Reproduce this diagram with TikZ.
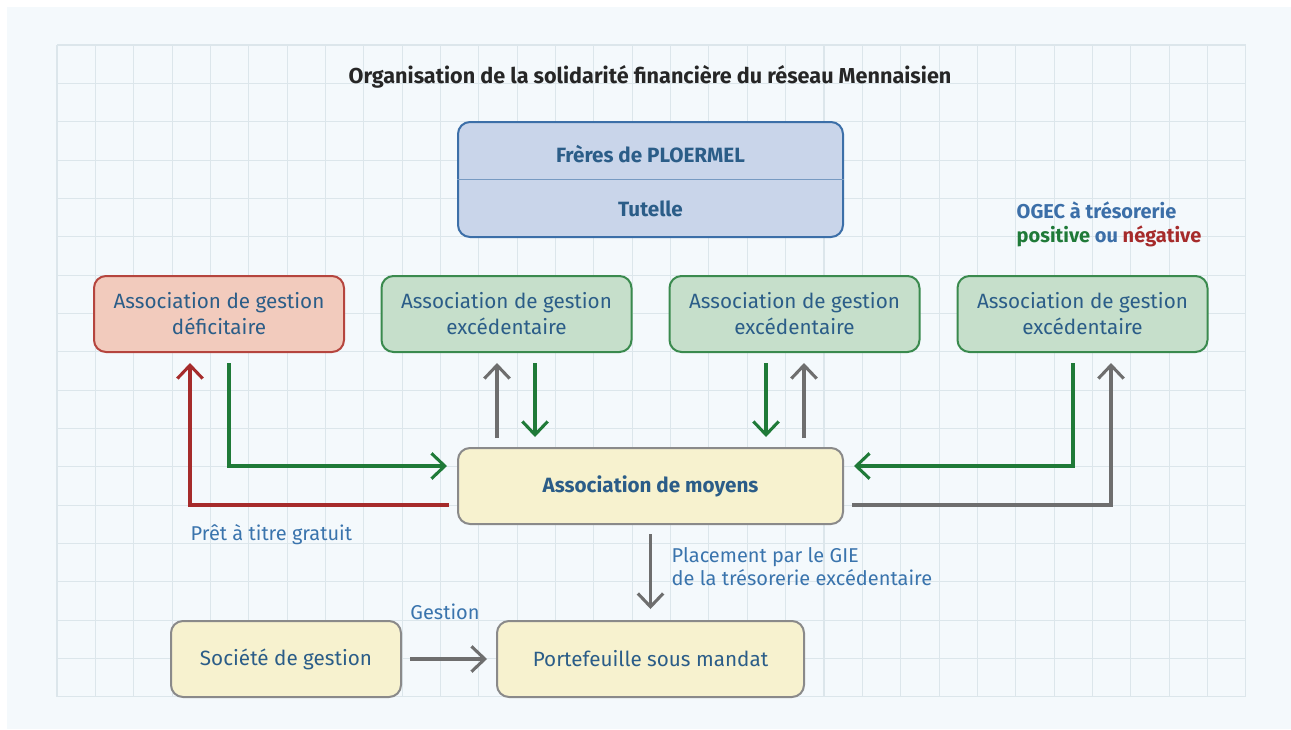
\documentclass[tikz,border=0pt]{standalone}
\usepackage{fontspec}
\setmainfont{Fira Sans}
\usetikzlibrary{arrows.meta,calc}

\newcommand{\pxu}{0.75pt}
\definecolor{papier}{HTML}{F4F9FC}
\definecolor{quadrille}{HTML}{DCE6EB}
\definecolor{bleutexte}{HTML}{2B5D88}
\definecolor{bleulabel}{HTML}{3A74AD}
\definecolor{bleufond}{HTML}{C9D5EA}
\definecolor{bleutrait}{HTML}{3C6FA8}
\definecolor{rougefond}{HTML}{F2CBBD}
\definecolor{rougetrait}{HTML}{B5453E}
\definecolor{rougefleche}{HTML}{A62B2B}
\definecolor{vertfond}{HTML}{C6DFCB}
\definecolor{verttrait}{HTML}{3A8A4E}
\definecolor{vertfleche}{HTML}{1F7A38}
\definecolor{jaunefond}{HTML}{F7F2CF}
\definecolor{gristrait}{HTML}{8A8A8A}
\definecolor{grisfleche}{HTML}{6E6E6E}

\begin{document}
\begin{tikzpicture}[x=\pxu, y=-\pxu, >={Straight Barb[length=10pt,width=19pt]},
  boite/.style={draw, rounded corners=9pt, line width=1.5pt, minimum height=76*\pxu,
    align=center, text=bleutexte, font=\fontsize{15.5}{19.5}\selectfont},
  deficit/.style={boite, fill=rougefond, draw=rougetrait, minimum width=250*\pxu},
  exced/.style={boite, fill=vertfond, draw=verttrait, minimum width=250*\pxu},
  moyen/.style={boite, fill=jaunefond, draw=gristrait},
  fleche/.style={->, line width=2.3pt},
  lbl/.style={text=bleulabel, font=\fontsize{15}{17.5}\selectfont, align=left}]
  \useasboundingbox (0,0) rectangle (1291,729);
  \fill[white] (0,0) rectangle (1291,729);
  \fill[papier] (7,7) rectangle (1291,729);
  % quadrillage
  \foreach \i in {0,...,31}
    \draw[quadrille, line width=0.8pt] ({57+38.35*\i},45) -- ++(0,652);
  \foreach \j in {0,...,17}
    \draw[quadrille, line width=0.8pt] (57,{45+38.35*\j}) -- ++(1188.85,0);

  \node[font=\fontsize{16.2}{19}\bfseries, text=black!85] (titre) at (650,77)
    {Organisation de la solidarité financière du réseau Mennaisien};

  % tutelle
  \node[boite, fill=bleufond, draw=bleutrait, minimum width=385*\pxu, minimum height=115*\pxu] (tutelle) at (650.5,179.5) {};
  \draw[bleutrait!70, line width=0.8pt] (tutelle.west) -- (tutelle.east);
  \node[text=bleutexte, font=\fontsize{15.5}{19}\bfseries] (freres) at (650.5,154) {Frères de PLOERMEL};
  \node[text=bleutexte, font=\fontsize{15.5}{19}\bfseries] (tut) at (650.5,209) {Tutelle};
  \node[anchor=west, align=left, font=\fontsize{15}{18}\bfseries] (ogec) at (1012,224)
    {\textcolor{bleutrait}{OGEC à trésorerie}\\
     \textcolor{vertfleche}{positive} \textcolor{bleutrait}{ou} \textcolor{rougefleche}{négative}};

  % associations de gestion
  \node[deficit] (deficitaire) at (219,314) {Association de gestion\\déficitaire};
  \node[exced] (exced1) at (506.5,314) {Association de gestion\\excédentaire};
  \node[exced] (exced2) at (794.5,314) {Association de gestion\\excédentaire};
  \node[exced] (exced3) at (1082.5,314) {Association de gestion\\excédentaire};

  \node[moyen, minimum width=385*\pxu, font=\fontsize{15.5}{19}\bfseries] (moyens) at (650.5,486) {Association de moyens};
  \node[moyen, minimum width=230*\pxu] (societe) at (286,659) {Société de gestion};
  \node[moyen, minimum width=307*\pxu] (portef) at (650.5,659) {Portefeuille sous mandat};

  % flux
  \draw[fleche, rougefleche] ($(moyens.west)+(-8,19)$) -| ($(deficitaire.south)+(-29,10)$);
  \draw[fleche, vertfleche] ($(deficitaire.south)+(10,10)$) |- ($(moyens.west)+(-10,-20)$);
  \draw[fleche, grisfleche] ($(moyens.north)+(-153.5,-9)$) -- ($(exced1.south)+(-9.5,10)$);
  \draw[fleche, vertfleche] ($(exced1.south)+(28.5,10)$) -- ($(moyens.north)+(-115.5,-10)$);
  \draw[fleche, vertfleche] ($(exced2.south)+(-28.5,10)$) -- ($(moyens.north)+(115.5,-10)$);
  \draw[fleche, grisfleche] ($(moyens.north)+(153.5,-9)$) -- ($(exced2.south)+(9.5,10)$);
  \draw[fleche, vertfleche] ($(exced3.south)+(-9.5,10)$) |- ($(moyens.east)+(10,-20)$);
  \draw[fleche, grisfleche] ($(moyens.east)+(8,19)$) -| ($(exced3.south)+(28.5,10)$);
  \draw[fleche, grisfleche] ($(moyens.south)+(0,9)$) -- ($(portef.north)+(0,-11)$);
  \draw[fleche, grisfleche] ($(societe.east)+(8,0)$) -- ($(portef.west)+(-9,0)$);

  \node[lbl, anchor=west] (pret) at (186,535) {Prêt à titre gratuit};
  \node[lbl, anchor=west] (placement) at (667,566.5) {Placement par le GIE\\de la trésorerie excédentaire};
  \node[lbl] (gestion) at (445,612) {Gestion};
\end{tikzpicture}
\end{document}
